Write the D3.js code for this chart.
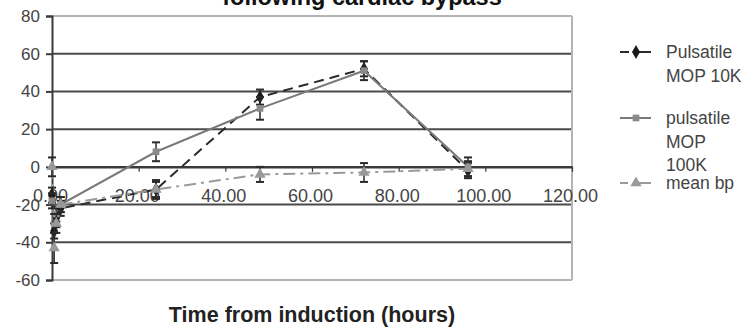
<!DOCTYPE html>
<html><head><meta charset="utf-8">
<script src="https://cdn.jsdelivr.net/npm/d3@7/dist/d3.min.js"></script>
<style>body{margin:0;background:#fff}svg{display:block}text{font-family:"Liberation Sans",Arial,sans-serif}</style>
</head><body><svg id="c" width="747" height="327"></svg>
<script>
const times = [0, 0.5, 1, 2, 24, 48, 72, 96];
const seriesNames = ["Pulsatile MOP 10K", "pulsatile MOP 100K", "mean bp"];
const mop10k = [-15, -34, -27, -22, -12, 37, 52, -2];
const mop10kErr = [4, 4, 5, 4, 4, 4, 4, 4];
const mop100k = [-18, -30, -25, -20, 8, 31, 51, 0];
const mop100kErr = [4, 5, 4, 4, 5, 6, 5, 5];
const meanBp = [0, -43, -30, -20, -12, -4, -3, -1];
const meanBpErr = [5, 8, 5, 4, 5, 4, 5, 4];
const xTicks = [0, 20, 40, 60, 80, 100, 120];
const yTicks = [-60, -40, -20, 0, 20, 40, 60, 80];
const titleText = "following cardiac bypass";
const xTitle = "Time from induction (hours)";

const svg = d3.select("#c");
const x = d3.scaleLinear().domain([0, 120]).range([52, 572]);
const y = d3.scaleLinear().domain([-60, 80]).range([280, 16]);

// title (first line clipped above)
svg.append("text").attr("x", 362).attr("y", 5).attr("text-anchor", "middle")
  .attr("font-size", 23.5).attr("font-weight", "bold").attr("fill", "#111").text(titleText);

// gridlines
yTicks.forEach(v => {
  if (v === 0) return;
  const edge = (v === 80 || v === -60);
  svg.append("line").attr("x1", 52).attr("x2", 572).attr("y1", y(v)).attr("y2", y(v))
    .attr("stroke", edge ? "#b4b4b4" : "#4a4a4a").attr("stroke-width", 2);
});
// right border
svg.append("line").attr("x1", 572).attr("x2", 572).attr("y1", y(80)).attr("y2", y(-60))
  .attr("stroke", "#b4b4b4").attr("stroke-width", 2);

// y axis
const yAxis = d3.axisLeft(y).tickValues(yTicks).tickSize(6).tickFormat(d3.format("d"));
const gy = svg.append("g").attr("transform", "translate(52,0)").call(yAxis);
gy.select(".domain").attr("stroke", "#3a3a3a").attr("stroke-width", 2);
gy.selectAll(".tick line").attr("stroke", "#3a3a3a").attr("stroke-width", 2);
gy.selectAll(".tick text").attr("font-size", 17).attr("fill", "#444").attr("x", -12)
  .text(d => d < 0 ? "-" + Math.abs(d) : d);

// x axis at y=0
const xAxis = d3.axisBottom(x).tickValues(xTicks).tickSize(5).tickSizeOuter(0).tickFormat(d3.format(".2f"));
const gx = svg.append("g").attr("transform", `translate(0,${y(0)})`).call(xAxis);
gx.select(".domain").attr("stroke", "#3a3a3a").attr("stroke-width", 2.5);
gx.selectAll(".tick line").attr("stroke", "#3a3a3a").attr("stroke-width", 1.2);
gx.selectAll(".tick text").attr("font-size", 18).attr("fill", "#444").attr("y", 22).attr("dx", -2);

const series = [
  {vals: mop10k, err: mop10kErr, color: "#2a2a2a", dash: "10,6", shape: d3.symbolDiamond, msize: 55, mcolor: "#1a1a1a"},
  {vals: mop100k, err: mop100kErr, color: "#7a7a7a", dash: null, shape: d3.symbolSquare, msize: 45, mcolor: "#8a8a8a"},
  {vals: meanBp, err: meanBpErr, color: "#9a9a9a", dash: "12,5,3,5", shape: d3.symbolTriangle, msize: 55, mcolor: "#999"}
];
const line = d3.line().x(d => x(d[0])).y(d => y(d[1]));

series.forEach(s => {
  const pts = times.map((t, i) => [t, s.vals[i], s.err[i]]);
  const p = svg.append("path").attr("d", line(pts)).attr("fill", "none")
    .attr("stroke", s.color).attr("stroke-width", 2);
  if (s.dash) p.attr("stroke-dasharray", s.dash);
});
series.forEach(s => {
  const pts = times.map((t, i) => [t, s.vals[i], s.err[i]]);
  const g = svg.append("g");
  pts.forEach(d => {
    const cx = x(d[0]), t = y(d[1] + d[2]), b = y(d[1] - d[2]);
    g.append("line").attr("x1", cx).attr("x2", cx).attr("y1", t).attr("y2", b).attr("stroke", "#2a2a2a").attr("stroke-width", 1.5);
    [t, b].forEach(yy => g.append("line").attr("x1", cx - 4).attr("x2", cx + 4).attr("y1", yy).attr("y2", yy).attr("stroke", "#2a2a2a").attr("stroke-width", 2));
    g.append("path").attr("d", d3.symbol().type(s.shape).size(s.msize)())
      .attr("transform", `translate(${cx},${y(d[1])})`).attr("fill", s.mcolor);
  });
});

// axis title
svg.append("text").attr("x", 312).attr("y", 322).attr("text-anchor", "middle")
  .attr("font-size", 21.5).attr("font-weight", "bold").attr("fill", "#222").text(xTitle);

// legend
const legendLines = [["Pulsatile", "MOP 10K"], ["pulsatile", "MOP", "100K"], ["mean bp"]];
const legendY = [52, 118, 183];
series.forEach((s, i) => {
  const ly = legendY[i];
  const l = svg.append("line").attr("x1", 620).attr("x2", 651).attr("y1", ly).attr("y2", ly)
    .attr("stroke", s.color).attr("stroke-width", 2);
  if (s.dash) l.attr("stroke-dasharray", i === 0 ? "9,5,20" : "8,5,20");
  svg.append("path").attr("d", d3.symbol().type(s.shape).size(s.msize)())
    .attr("transform", `translate(636,${ly})`).attr("fill", s.mcolor);
  legendLines[i].forEach((txt, j) => {
    svg.append("text").attr("x", 666).attr("y", ly + j * 23.5).attr("dy", "0.35em")
      .attr("font-size", 17.5).attr("fill", "#444").text(txt);
  });
});
</script></body></html>
